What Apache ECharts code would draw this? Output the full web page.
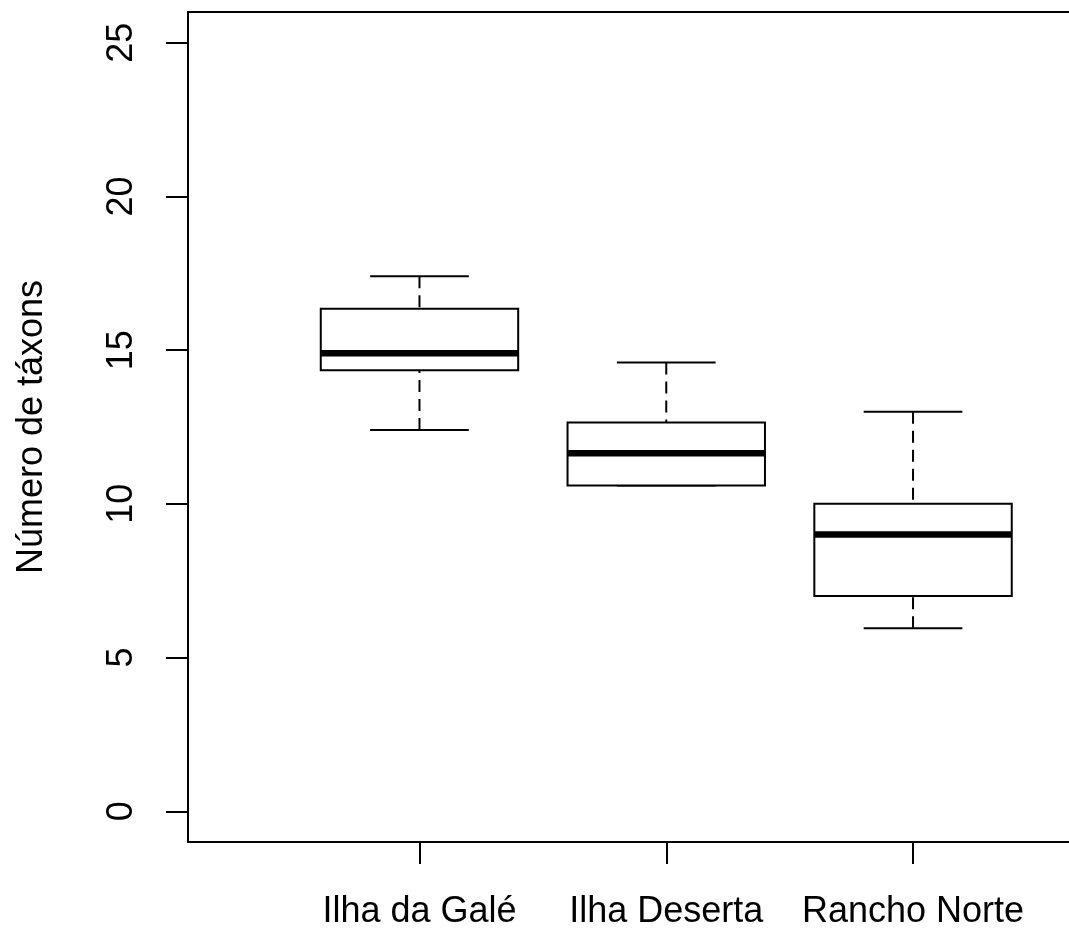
<!DOCTYPE html>
<html>
<head>
<meta charset="utf-8">
<script src="https://cdn.jsdelivr.net/npm/echarts@6/dist/echarts.min.js"></script>
<style>
html,body{margin:0;padding:0;background:#fff;}
#chart{width:1069px;height:931px;}
</style>
</head>
<body>
<div id="chart"></div>
<script>
var categories = ['Ilha da Galé', 'Ilha Deserta', 'Rancho Norte'];
var lowerWhisker = [12.4, 10.6, 5.95];
var q1 = [14.35, 10.6, 7.0];
var median = [14.9, 11.65, 9.0];
var q3 = [16.35, 12.65, 10.0];
var upperWhisker = [17.4, 14.6, 13.0];
var yTicks = [0, 5, 10, 15, 20, 25];
var xPositions = [1, 2, 3];

var FONT = "'Liberation Sans', Arial, sans-serif";
var data = categories.map(function (c, i) {
  return [xPositions[i], lowerWhisker[i], q1[i], median[i], q3[i], upperWhisker[i]];
});

function renderItem(params, api) {
  var x = api.value(0);
  var lo = api.value(1), a = api.value(2), m = api.value(3), b = api.value(4), hi = api.value(5);
  var bw = 0.4, cw = 0.2;
  function p(xx, yy) { return api.coord([xx, yy]); }
  var black = '#000';
  var children = [];
  var pHi = p(x, hi), pB = p(x, b), pLo = p(x, lo), pA = p(x, a);
  children.push({type: 'line', shape: {x1: pHi[0], y1: pHi[1], x2: pB[0], y2: pB[1]},
    style: {stroke: black, lineWidth: 2, lineDash: [12, 7]}});
  children.push({type: 'line', shape: {x1: pLo[0], y1: pLo[1], x2: pA[0], y2: pA[1]},
    style: {stroke: black, lineWidth: 2, lineDash: [12, 7]}});
  var c1 = p(x - cw, hi), c2 = p(x + cw, hi);
  children.push({type: 'line', shape: {x1: c1[0], y1: c1[1], x2: c2[0], y2: c2[1]},
    style: {stroke: black, lineWidth: 2}});
  var d1 = p(x - cw, lo), d2 = p(x + cw, lo);
  children.push({type: 'line', shape: {x1: d1[0], y1: d1[1], x2: d2[0], y2: d2[1]},
    style: {stroke: black, lineWidth: 2}});
  var tl = p(x - bw, b), br = p(x + bw, a);
  children.push({type: 'rect', shape: {x: tl[0], y: tl[1], width: br[0] - tl[0], height: br[1] - tl[1]},
    style: {fill: '#fff', stroke: black, lineWidth: 2}});
  var m1 = p(x - bw, m), m2 = p(x + bw, m);
  children.push({type: 'line', shape: {x1: m1[0], y1: m1[1], x2: m2[0], y2: m2[1]},
    style: {stroke: black, lineWidth: 6.5, lineCap: 'butt'}});
  return {type: 'group', children: children};
}

var XMIN = 0.062, XMAX = 3.632;
var chart = echarts.init(document.getElementById('chart'), null, {renderer: 'canvas'});
chart.setOption({
  backgroundColor: '#fff',
  animation: false,
  grid: {left: 188, top: 12, right: 0, height: 830, show: false},
  xAxis: [{
    type: 'value', min: XMIN, max: XMAX, position: 'bottom',
    axisLine: {show: true, onZero: false, lineStyle: {color: '#000', width: 2}},
    splitLine: {show: false},
    axisTick: {show: true, customValues: xPositions, length: 22, lineStyle: {color: '#000', width: 2}},
    axisLabel: {customValues: xPositions, formatter: function (v) { return categories[Math.round(v) - 1]; },
      fontSize: 36, color: '#000', margin: 52, fontFamily: FONT}
  }, {
    type: 'value', min: XMIN, max: XMAX, position: 'top',
    axisLine: {show: true, onZero: false, lineStyle: {color: '#000', width: 2}},
    splitLine: {show: false}, axisTick: {show: false}, axisLabel: {show: false}
  }],
  yAxis: {
    type: 'value', min: -1, max: 26, position: 'left',
    axisLine: {show: true, onZero: false, lineStyle: {color: '#000', width: 2}},
    splitLine: {show: false},
    axisTick: {show: true, customValues: yTicks, length: 22, lineStyle: {color: '#000', width: 2}},
    axisLabel: {customValues: yTicks, rotate: 90, fontSize: 36, color: '#000', margin: 48, fontFamily: FONT},
    name: 'Número de táxons', nameLocation: 'middle', nameRotate: 90, nameGap: 138,
    nameTextStyle: {fontSize: 36, color: '#000', fontFamily: FONT}
  },
  series: [{
    type: 'custom',
    renderItem: renderItem,
    data: data,
    xAxisIndex: 0,
    encode: {x: 0, y: [1, 2, 3, 4, 5]}
  }]
});
</script>
</body>
</html>
